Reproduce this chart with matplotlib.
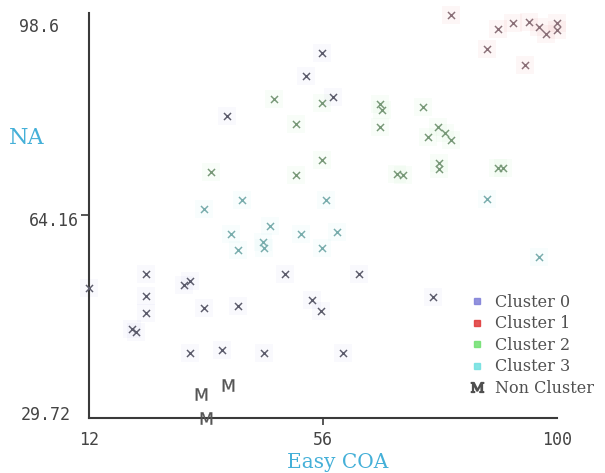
import matplotlib
matplotlib.use('Agg')
import matplotlib.pyplot as plt
from matplotlib.lines import Line2D
from matplotlib.transforms import ScaledTranslation

plt.rcParams['mathtext.fontset'] = 'dejavuserif'

# 数据：各簇坐标 (Easy COA, NA)
c0_x = [55.8, 52.8, 57.9, 37.9, 12.0, 22.7, 22.7, 22.7, 29.9, 31.0, 33.6, 40.0,
        48.9, 53.9, 55.6, 20.1, 20.8, 31.0, 37.0, 44.9, 62.8, 76.7, 59.8]
c0_y = [91.8, 87.9, 84.3, 81.1, 51.8, 54.2, 50.4, 47.6, 52.3, 53.0, 48.4, 48.8,
        54.2, 49.8, 47.9, 44.9, 44.3, 40.8, 41.3, 40.8, 54.2, 50.3, 40.8]

c1_x = [80.0, 88.9, 91.7, 94.7, 96.6, 97.9, 100.0, 100.0, 86.8, 94.0]
c1_y = [98.3, 95.9, 96.9, 97.1, 96.2, 95.0, 96.9, 95.7, 92.5, 89.7]

c2_x = [46.8, 55.8, 50.9, 34.9, 50.9, 55.8, 66.7, 67.1, 74.8, 66.7, 77.6, 78.9,
        75.7, 80.1, 77.8, 77.8, 69.9, 71.0, 88.9, 89.8]
c2_y = [84.0, 83.3, 79.7, 71.6, 71.0, 73.6, 83.1, 82.1, 82.6, 79.2, 79.2, 78.2,
        77.5, 77.0, 73.1, 72.1, 71.2, 71.0, 72.2, 72.2]

c3_x = [40.8, 33.6, 56.6, 86.8, 38.7, 46.0, 40.0, 44.7, 44.9, 51.9, 55.8, 58.6, 96.6]
c3_y = [66.8, 65.3, 66.8, 66.9, 61.0, 62.4, 58.3, 59.6, 58.6, 61.0, 58.6, 61.3, 57.1]

non_x = [33.1, 38.1, 34.0]
non_y = [33.8, 35.3, 29.72]

x_ticks = [12, 56, 100]
y_ticks = [29.72, 64.16, 98.6]
y_tick_labels = ['29.72', '64.16', '98.6']
cluster_names = ['Cluster 0', 'Cluster 1', 'Cluster 2', 'Cluster 3']
legend_colors = ['#8080d8', '#e03838', '#70e070', '#70e0e0']
mark_colors = ['#5c5c6c', '#8a7078', '#789878', '#78acac']

fig = plt.figure(figsize=(6.05, 4.73), dpi=100)
ax = fig.add_axes([89 / 605, 55 / 473, 468 / 605, 405 / 473])

clusters = [(c0_x, c0_y), (c1_x, c1_y), (c2_x, c2_y), (c3_x, c3_y)]
for (xs, ys), lc, mc in zip(clusters, legend_colors, mark_colors):
    # 淡淡的光晕
    ax.scatter(xs, ys, s=170, marker='s', color=lc, alpha=0.045,
               linewidths=0, clip_on=False)
    ax.scatter(xs, ys, s=26, marker='x', color=mc, linewidths=1.05,
               clip_on=False, zorder=3)

ax.scatter(non_x, non_y, s=80, marker=r'$\mathsf{M}$', color='#555555',
           linewidths=0.2, clip_on=False, zorder=3)

ax.set_xlim(12, 100)
ax.set_ylim(29.72, 98.6)
for s in ['top', 'right']:
    ax.spines[s].set_visible(False)
for s in ['left', 'bottom']:
    ax.spines[s].set_color('#3a3a3a')
    ax.spines[s].set_linewidth(1.5)

ax.set_xticks(x_ticks)
ax.set_xticklabels([str(v) for v in x_ticks])
ax.set_yticks(y_ticks)
ax.set_yticklabels(y_tick_labels)
ax.tick_params(axis='x', direction='out', length=5, width=1.2, color='#3a3a3a',
               pad=4, labelsize=12, labelcolor='#444444')
ax.tick_params(axis='y', direction='out', length=6, width=1.2, color='#3a3a3a',
               pad=1, labelsize=12, labelcolor='#444444')
for lab in ax.get_xticklabels() + ax.get_yticklabels():
    lab.set_family('DejaVu Sans Mono')

# 只保留中间的刻度线
xt = ax.xaxis.get_major_ticks()
yt = ax.yaxis.get_major_ticks()
for t in [xt[0], xt[2], yt[0], yt[2]]:
    t.tick1line.set_visible(False)

# 两端的 y 标签往里挪
ylabs = ax.get_yticklabels()
shifts = [(-9, 5), (0, -3), (-20, -12)]
for lab, (dx, dy) in zip(ylabs, shifts):
    lab.set_transform(lab.get_transform() +
                      ScaledTranslation(dx / 100, dy / 100, fig.dpi_scale_trans))

fig.text(27 / 605, 1 - 138 / 473, 'NA', family='DejaVu Serif', fontsize=16,
         color='#45b0d8', ha='center', va='center')
fig.text(338 / 605, 1 - 462 / 473, 'Easy COA', family='DejaVu Serif', fontsize=14.5,
         color='#45b0d8', ha='center', va='center')

handles = [Line2D([], [], linestyle='none', marker='s', markersize=5,
                  markerfacecolor=c, markeredgecolor=c, alpha=0.85)
           for c in legend_colors]
handles.append(Line2D([], [], linestyle='none', marker=r'$\mathrm{M}$',
                      markersize=9, color='#505050'))
leg = ax.legend(handles, cluster_names + ['Non Cluster'], loc='upper left',
                bbox_to_anchor=(469 / 605, 1 - 294 / 473),
                bbox_transform=fig.transFigure, frameon=False,
                prop={'family': 'DejaVu Serif', 'size': 11.5},
                handlelength=1.0, handletextpad=0.65, labelspacing=0.28,
                borderpad=0, borderaxespad=0)
for t in leg.get_texts():
    t.set_color('#505050')

fig.savefig('out.png', dpi=100)
